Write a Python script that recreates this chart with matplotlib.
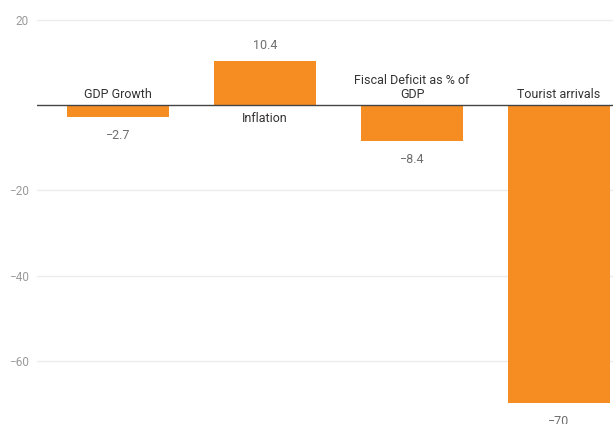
import matplotlib.pyplot as plt

plt.rcParams['font.family'] = ['Roboto', 'DejaVu Sans']

# data
categories = ['GDP Growth', 'Inflation', 'Fiscal Deficit as % of\nGDP', 'Tourist arrivals']
values = [-2.7, 10.4, -8.4, -70]
yticks = [20, 0, -20, -40, -60]

bar_color = '#F68D22'

fig = plt.figure(figsize=(6.13, 4.24), dpi=100)
ax = fig.add_axes([37 / 613, 0, 1 - 37 / 613, 1])

x = list(range(len(values)))
ax.bar(x, values, width=0.69, color=bar_color, zorder=2)

ax.set_xlim(-0.551, 3.367)
ax.set_ylim(-74.83, 24.63)

# gridlines and zero line
for t in yticks:
    if t == 0:
        ax.axhline(0, color='#444444', lw=1.0, zorder=3)
    else:
        ax.axhline(t, color='#ececec', lw=1.0, zorder=1)

ax.set_yticks(yticks)
ax.set_yticklabels(['20', '', '\u221220', '\u221240', '\u221260'])
ax.tick_params(axis='y', length=0, pad=6, labelsize=8.5, labelcolor='#9a9a9a')
ax.set_xticks([])
for s in ax.spines.values():
    s.set_visible(False)

# value labels and category labels
for xi, v, cat in zip(x, values, categories):
    txt = f'{v:g}'.replace('-', '\u2212')
    if v >= 0:
        ax.annotate(txt, (xi, v), xytext=(0, 9), textcoords='offset pixels',
                    ha='center', va='bottom', fontsize=9, color='#6e6e6e')
        ax.annotate(cat, (xi, 0), xytext=(0, -7), textcoords='offset pixels',
                    ha='center', va='top', fontsize=9, color='#333333',
                    linespacing=1.1)
    else:
        ax.annotate(txt, (xi, v), xytext=(0, -12), textcoords='offset pixels',
                    ha='center', va='top', fontsize=9, color='#6e6e6e',
                    annotation_clip=False)
        ax.annotate(cat, (xi, 0), xytext=(0, 4), textcoords='offset pixels',
                    ha='center', va='bottom', fontsize=9, color='#333333',
                    linespacing=1.1)

fig.savefig('out.png', dpi=100)
